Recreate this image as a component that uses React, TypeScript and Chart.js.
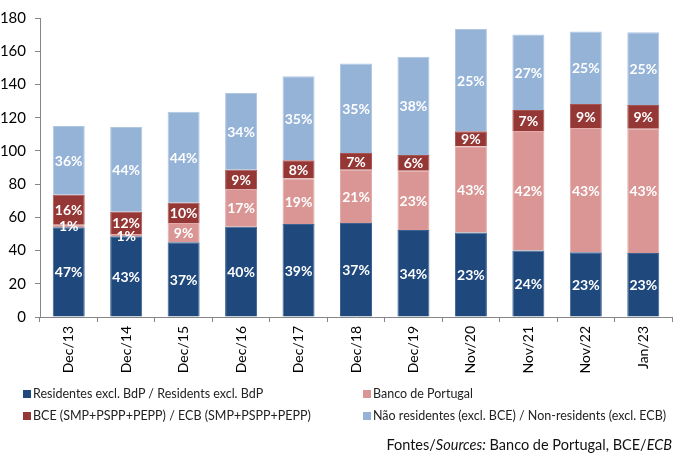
import React, { useEffect, useRef } from "react";
import { Chart, registerables } from "chart.js";
Chart.register(...registerables);

const categories = ["Dec/13", "Dec/14", "Dec/15", "Dec/16", "Dec/17", "Dec/18", "Dec/19", "Nov/20", "Nov/21", "Nov/22", "Jan/23"];
const residents = [54, 48.6, 45, 54.4, 56, 56.6, 52.4, 50.8, 40, 39, 38.6];
const bdp = [1.6, 1.4, 11.6, 22.6, 27.4, 32, 35.6, 52, 72, 74.8, 74.8];
const ecb = [18, 13.4, 12.2, 11.6, 11, 10.2, 9.6, 9, 12.6, 14.4, 14.2];
const nonres = [41.4, 51, 54.8, 46.2, 50.6, 53.8, 59, 61.6, 45.4, 43.6, 43.8];

const residentsPct = [47, 43, 37, 40, 39, 37, 34, 23, 24, 23, 23];
const bdpPct = [1, 1, 9, 17, 19, 21, 23, 43, 42, 43, 43];
const ecbPct = [16, 12, 10, 9, 8, 7, 6, 9, 7, 9, 9];
const nonresPct = [36, 44, 44, 34, 35, 35, 38, 25, 27, 25, 25];

const seriesNames = [
  "Residentes excl. BdP / Residents excl. BdP",
  "Banco de Portugal",
  "BCE (SMP+PSPP+PEPP) / ECB (SMP+PSPP+PEPP)",
  "Não residentes (excl. BCE) / Non-residents (excl. ECB)",
];
const colors = ["#1F497D", "#D99694", "#953735", "#95B3D7"];
const borders = ["#3D6190", "#E3ABA9", "#A85452", "#B0C7E2"];
const pctLabels = [residentsPct, bdpPct, ecbPct, nonresPct];

const pctPlugin = {
  id: "pctLabels",
  afterDatasetsDraw(chart: any) {
    const ctx = chart.ctx;
    ctx.save();
    ctx.font = "bold 14px Lato";
    ctx.fillStyle = "#ffffff";
    ctx.textAlign = "center";
    ctx.textBaseline = "middle";
    chart.data.datasets.forEach((_ds: any, i: number) => {
      const meta = chart.getDatasetMeta(i);
      meta.data.forEach((el: any, j: number) => {
        const p = el.getProps(["x", "y", "base"], true);
        ctx.fillText(pctLabels[i][j] + "%", p.x, (p.y + p.base) / 2 + 1);
      });
    });
    ctx.restore();
  },
};

export default function App() {
  const ref = useRef<HTMLCanvasElement>(null);
  useEffect(() => {
    document.body.style.margin = "0";
    Chart.defaults.font.family = "Lato";
    const data = [residents, bdp, ecb, nonres];
    const chart = new Chart(ref.current!, {
      type: "bar",
      data: {
        labels: categories,
        datasets: data.map((d, i) => ({
          label: seriesNames[i],
          data: d,
          backgroundColor: colors[i],
          borderColor: borders[i],
          borderWidth: 1,
          barPercentage: 0.557,
          categoryPercentage: 1,
        })),
      },
      options: {
        animation: false,
        responsive: false,
        devicePixelRatio: 1,
        layout: { padding: { top: 17, left: 0, right: 15, bottom: 81 } },
        plugins: { legend: { display: false }, tooltip: { enabled: false } },
        scales: {
          x: {
            stacked: true,
            ticks: { minRotation: 90, maxRotation: 90, color: "#000", font: { size: 14 }, padding: 4, autoSkip: false },
            grid: { drawOnChartArea: false, tickLength: 5, color: "#868686", offset: true },
            border: { color: "#868686", width: 1 },
            afterFit(s: any) { s.height = 60; },
          },
          y: {
            stacked: true,
            min: 0,
            max: 180,
            ticks: { stepSize: 20, color: "#000", font: { size: 15 }, padding: 9 },
            grid: { drawOnChartArea: false, tickLength: 5, color: "#868686" },
            border: { color: "#868686", width: 1 },
            afterFit(s: any) { s.width = 40; },
          },
        },
      },
      plugins: [pctPlugin],
    });
    return () => chart.destroy();
  }, []);

  const legendItem = (i: number, left: number, top: number) => (
    <div key={i} style={{ position: "absolute", left, top, display: "flex", alignItems: "center", fontSize: 12.5, color: "#222", whiteSpace: "nowrap" }}>
      <span style={{ display: "inline-block", width: 8, height: 8, background: colors[i], marginRight: 2 }} />
      <span>{seriesNames[i]}</span>
    </div>
  );

  return (
    <div style={{ position: "relative", width: 687, height: 458, fontFamily: "Lato", background: "#fff", overflow: "hidden" }}>
      <canvas ref={ref} width={687} height={458} style={{ position: "absolute", left: 0, top: 0, width: 687, height: 458 }} />
      {legendItem(0, 23, 386)}
      {legendItem(1, 363, 386)}
      {legendItem(2, 23, 408)}
      {legendItem(3, 363, 408)}
      <div style={{ position: "absolute", right: 15, top: 436, fontSize: 14.5, color: "#111", whiteSpace: "nowrap" }}>
        Fontes/<i>Sources:</i> Banco de Portugal, BCE/<i>ECB</i>
      </div>
    </div>
  );
}
